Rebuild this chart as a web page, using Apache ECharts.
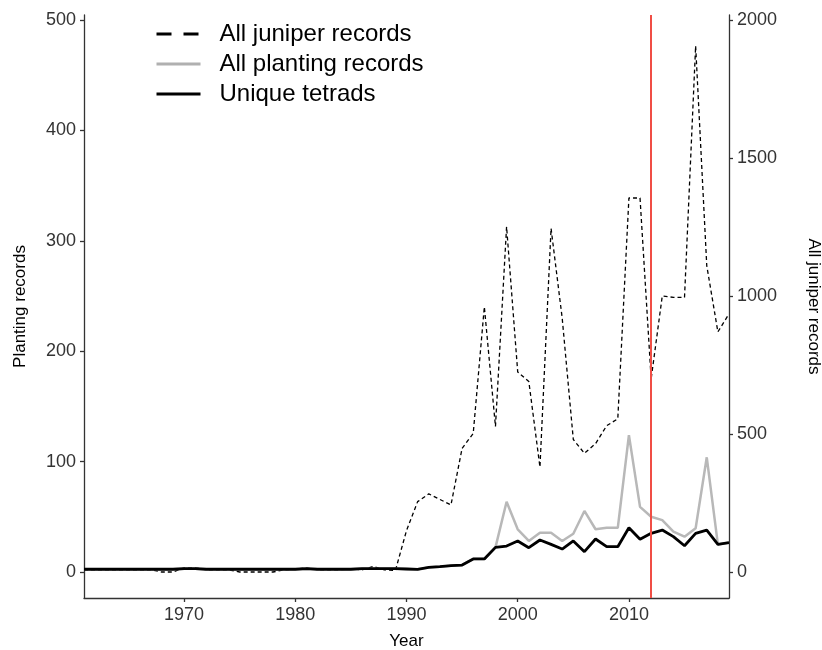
<!DOCTYPE html>
<html>
<head>
<meta charset="utf-8">
<script src="https://cdn.jsdelivr.net/npm/echarts@6/dist/echarts.min.js"></script>
<style>
html,body{margin:0;padding:0;background:#fff;overflow:hidden;}
#chart{width:822px;height:650px;}
</style>
</head>
<body>
<div id="chart"></div>
<script>
// ---- data ----
const years = [1961,1962,1963,1964,1965,1966,1967,1968,1969,1970,
  1971,1972,1973,1974,1975,1976,1977,1978,1979,1980,
  1981,1982,1983,1984,1985,1986,1987,1988,1989,1990,
  1991,1992,1993,1994,1995,1996,1997,1998,1999,2000,
  2001,2002,2003,2004,2005,2006,2007,2008,2009,2010,
  2011,2012,2013,2014,2015,2016,2017,2018,2019];

// All juniper records (right axis)
const juniperRecords = [8,8,8,8,8,8,8,0,0,15,
  15,8,8,8,0,0,0,0,8,10,
  15,8,8,8,12,8,20,8,5,150,
  255,283,263,243,448,502,961,527,1251,725,
  690,380,1245,920,480,430,465,530,555,1355,
  1355,700,1000,995,995,1906,1110,870,935];

// All planting records (left axis)
const plantingRecords = [2.5,2.5,2.5,2.5,2.5,2.5,2.5,2.5,2.5,3,
  3,2.5,2.5,2.5,2.5,2.5,2.5,2.5,2.5,2.5,
  3,2.5,2.5,2.5,2.5,3,3,3,3,2.7,
  2.4,4.2,4.8,5.7,6.3,11.8,11.8,22.3,63.7,38.7,
  28.1,35.6,35.6,28.1,34.7,55.3,38.7,40,40,124,
  59,50,47,36.5,32,39.6,103.9,25,26.6];

// Unique tetrads (left axis)
const uniqueTetrads = [2.5,2.5,2.5,2.5,2.5,2.5,2.5,2.5,2.5,3,
  3,2.5,2.5,2.5,2.5,2.5,2.5,2.5,2.5,2.5,
  3,2.5,2.5,2.5,2.5,3,3,3,3,2.7,
  2.4,4.2,4.8,5.7,6.3,11.8,11.8,22.3,23.5,28.1,
  22,29,25,20.8,28.1,18.4,29.9,22.9,22.9,40.1,
  29.6,35,38,32,23.8,35,38,25,26.6];

const xTicks = [1970,1980,1990,2000,2010];
const leftTicks = [0,100,200,300,400,500];
const rightTicks = [0,500,1000,1500,2000];
const markerYear = 2012;

const pair = (arr) => years.map((y,i) => [y, arr[i]]);

const FONT = "'Liberation Sans', Arial, sans-serif";
const chart = echarts.init(document.getElementById('chart'), null, {renderer:'canvas', width:822, height:650});

const axisLine = {show:true, onZero:false, lineStyle:{color:'#333', width:1.3}};
const axisTick = {show:true, length:4, lineStyle:{color:'#333', width:1.3}};
const labelStyle = {color:'#333', fontSize:18, fontFamily:FONT, formatter:(v)=>String(v)};

chart.setOption({
  animation:false,
  backgroundColor:'#fff',
  grid:{left:84, right:93, top:15, bottom:52, containLabel:false, outerBoundsMode:'none'},
  legend:{
    left:150, top:17, orient:'vertical', itemWidth:44, itemHeight:14, itemGap:6,
    textStyle:{fontSize:24, fontFamily:FONT, color:'#000', padding:[0,0,0,14]},
    data:[
      {name:'All juniper records', itemStyle:{opacity:0}, lineStyle:{type:[15,12], width:3, color:'#000'}},
      {name:'All planting records', itemStyle:{opacity:0}, lineStyle:{type:'solid', width:3, color:'#b0b0b0'}},
      {name:'Unique tetrads', itemStyle:{opacity:0}, lineStyle:{type:'solid', width:3, color:'#000'}}
    ]
  },
  xAxis:{
    type:'value', min:1961, max:2019,
    name:'Year', nameLocation:'middle', nameGap:35,
    nameTextStyle:{fontSize:17, fontFamily:FONT, color:'#000'},
    axisLine:axisLine,
    axisTick:Object.assign({customValues:xTicks}, axisTick),
    axisLabel:Object.assign({customValues:xTicks, margin:8}, labelStyle),
    splitLine:{show:false}
  },
  yAxis:[
    {
      type:'value', min:-23.55, max:504.5, position:'left',
      name:'Planting records', nameLocation:'middle', nameGap:55, nameRotate:90,
      nameTextStyle:{fontSize:17, fontFamily:FONT, color:'#000'},
      axisLine:axisLine,
      axisTick:Object.assign({customValues:leftTicks}, axisTick),
      axisLabel:Object.assign({customValues:leftTicks, margin:8}, labelStyle),
      splitLine:{show:false}
    },
    {
      type:'value', min:-94.2, max:2018, position:'right',
      name:'All juniper records', nameLocation:'middle', nameGap:76, nameRotate:-90,
      nameTextStyle:{fontSize:17, fontFamily:FONT, color:'#000'},
      axisLine:axisLine,
      axisTick:Object.assign({customValues:rightTicks}, axisTick),
      axisLabel:Object.assign({customValues:rightTicks, margin:8}, labelStyle),
      splitLine:{show:false}
    }
  ],
  series:[
    {
      name:'All juniper records', type:'line', yAxisIndex:1, symbol:'none',
      data:pair(juniperRecords),
      lineStyle:{color:'#000', width:1.3, type:[4,3]},
      itemStyle:{color:'#000'}, z:2
    },
    {
      name:'All planting records', type:'line', yAxisIndex:0, symbol:'none',
      data:pair(plantingRecords),
      lineStyle:{color:'#b8b8b8', width:2.5},
      itemStyle:{color:'#b0b0b0'}, z:3
    },
    {
      name:'Unique tetrads', type:'line', yAxisIndex:0, symbol:'none',
      data:pair(uniqueTetrads),
      lineStyle:{color:'#000', width:2.8},
      itemStyle:{color:'#000'}, z:4,
      markLine:{
        silent:true, symbol:'none', label:{show:false},
        lineStyle:{color:'#f04e45', width:2, type:'solid'},
        data:[{xAxis:markerYear}]
      }
    }
  ]
});
</script>
</body>
</html>
